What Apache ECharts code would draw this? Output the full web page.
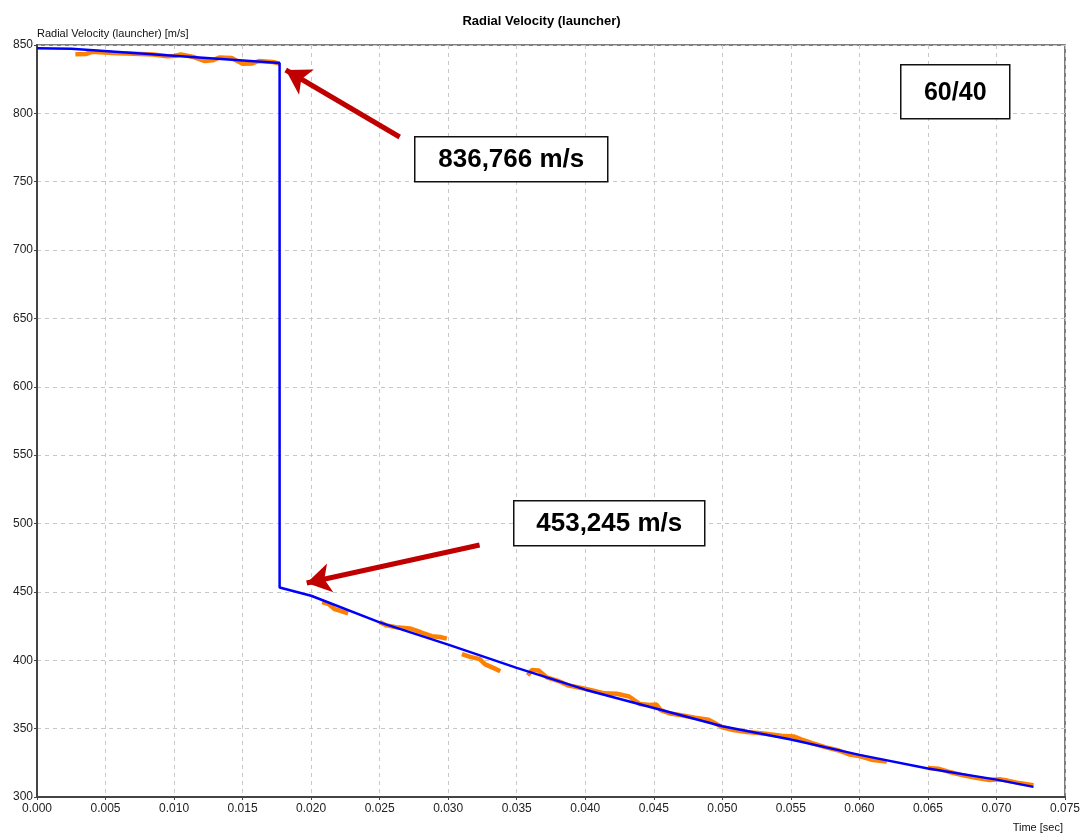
<!DOCTYPE html>
<html>
<head>
<meta charset="utf-8">
<title>Radial Velocity (launcher)</title>
<script src="https://cdn.jsdelivr.net/npm/echarts@6/dist/echarts.min.js"></script>
<style>
  html, body { margin: 0; padding: 0; background: #ffffff; }
  #chart { width: 1083px; height: 837px; }
</style>
</head>
<body>
<div id="chart"></div>
<script>
// Simulated radial velocity of the launcher (blue): slow decay, sudden drop at separation, then decay
const modelTime  = [0, 0.0025, 0.0177, 0.0177, 0.020, 0.025, 0.030, 0.035, 0.040, 0.045, 0.050, 0.055, 0.060, 0.065, 0.070, 0.0727];
const modelValue = [847.6, 847.3, 836.766, 453.245, 447.2, 427.7, 411.4, 394.4, 378.5, 365.1, 351.7, 342.0, 330.8, 320.8, 312.7, 307.4];

// Measured radial velocity (orange); '-' marks a gap in the measurement
const measTime = [
  0.0028, 0.0036, 0.0040, 0.0055, 0.0070, 0.0085, 0.0095, 0.0100, 0.0105, 0.0115, 0.0122, 0.0128, 0.0133, 0.0142, 0.0150, 0.0157, 0.0162, 0.0172, 0.0177, 0.0178,
  0.0208, 0.0213, 0.0217, 0.0222, 0.0227, 0.0228,
  0.0250, 0.0255, 0.0262, 0.0272, 0.0280, 0.0288, 0.0294, 0.0299, 0.0301,
  0.0310, 0.0316, 0.0323, 0.0327, 0.0335, 0.0338, 0.0350,
  0.0358, 0.0361, 0.0366, 0.0372, 0.0380, 0.0388, 0.0398, 0.0406, 0.0414, 0.0423, 0.0432, 0.0437, 0.0440, 0.0447, 0.0452, 0.0455,
  0.0462, 0.0470, 0.0480, 0.0490, 0.0500, 0.0508, 0.0518, 0.0530, 0.0543, 0.0552, 0.0558, 0.0565, 0.0575, 0.0585, 0.0593, 0.0600, 0.0610, 0.0620, 0.0625,
  0.0650, 0.0658, 0.0665, 0.0675, 0.0685, 0.0695, 0.0702, 0.0708, 0.0715, 0.0727
];
const measValue = [
  843.3, 843.5, 845.0, 844.2, 843.6, 843.0, 841.8, 842.0, 843.0, 841.0, 838.3, 838.8, 840.8, 840.5, 836.2, 836.5, 838.3, 837.6, 836.4, '-',
  442.5, 441.0, 437.5, 436.0, 434.3, '-',
  428.0, 425.5, 424.2, 423.3, 420.5, 417.6, 417.0, 415.8, '-',
  404.5, 402.5, 400.8, 397.0, 393.5, 392.0, '-',
  389.0, 392.8, 392.5, 387.5, 385.0, 381.5, 379.5, 377.8, 375.8, 375.5, 373.5, 370.0, 368.0, 367.3, 367.6, 363.5,
  361.0, 359.8, 358.0, 356.5, 351.0, 349.0, 347.5, 346.5, 344.8, 344.3, 342.0, 339.5, 336.5, 334.0, 331.0, 330.0, 327.0, 326.0, '-',
  321.2, 320.6, 318.5, 316.0, 314.0, 312.5, 313.0, 312.0, 310.5, 308.6
];

// Axis ranges and ticks
const timeMin = 0, timeMax = 0.075, timeStep = 0.005;
const velMin = 300, velMax = 850, velStep = 50;

// Callouts: text, and arrows (start -> tip) in data coordinates
const calloutUpper = '836,766 m/s';
const calloutLower = '453,245 m/s';
const calloutRatio = '60/40';
const arrowUpper = [[0.02646, 782.7], [0.01815, 831.7]];
const arrowLower = [[0.03229, 484.3], [0.01968, 456.5]];

const zip = (xs, ys) => xs.map((x, i) => [x, ys[i]]);

const chart = echarts.init(document.getElementById('chart'));
const tickFont = { fontFamily: 'Liberation Sans', fontSize: 12, color: '#222' };
const arrowStyle = { color: '#c00000', width: 5, type: 'solid' };

function calloutBox(x, y, w, h, text, size) {
  return {
    type: 'group', left: x, top: y, z: 100,
    children: [
      { type: 'rect', z: 100, shape: { x: 0, y: 0, width: w, height: h },
        style: { fill: '#fff', stroke: '#111', lineWidth: 1.5 } },
      { type: 'text', z: 101, x: w / 2, y: h / 2 + 1,
        style: { text: text, fill: '#000', font: 'bold ' + size + 'px "Liberation Sans"', textAlign: 'center', textVerticalAlign: 'middle' } }
    ]
  };
}

chart.setOption({
  animation: false,
  backgroundColor: '#fff',
  title: {
    text: 'Radial Velocity (launcher)',
    left: 'center', top: 10,
    textStyle: { fontFamily: 'Liberation Sans', fontSize: 13, fontWeight: 'bold', color: '#000' }
  },
  grid: {
    left: 37, right: 17, top: 45, bottom: 40,
    show: true, borderColor: '#555', borderWidth: 1.5, backgroundColor: '#fff'
  },
  xAxis: {
    type: 'value', min: timeMin, max: timeMax, interval: timeStep,
    axisLine: { show: true, onZero: false, lineStyle: { color: '#444', width: 2 } },
    axisTick: { show: true, length: 3, lineStyle: { color: '#444' } },
    axisLabel: Object.assign({ margin: 6, formatter: v => v.toFixed(3), showMaxLabel: true }, tickFont),
    splitLine: { show: true, lineStyle: { color: '#c8c8c8', type: [4, 4], width: 1 } }
  },
  yAxis: {
    type: 'value', min: velMin, max: velMax, interval: velStep,
    name: 'Radial Velocity (launcher) [m/s]',
    nameLocation: 'end', nameGap: 0,
    nameTextStyle: { fontFamily: 'Liberation Sans', fontSize: 11, color: '#111', align: 'left', verticalAlign: 'bottom', padding: [0, 0, 0, 0] },
    axisLine: { show: true, lineStyle: { color: '#444', width: 2 } },
    axisTick: { show: true, length: 3, lineStyle: { color: '#444' } },
    axisLabel: Object.assign({ margin: 4 }, tickFont),
    splitLine: { show: true, lineStyle: { color: '#c8c8c8', type: [4, 4], width: 1 } }
  },
  graphic: [
    { type: 'text', right: 20, top: 822,
      style: { text: 'Time [sec]', fill: '#111', font: '11px "Liberation Sans"' } },
    calloutBox(414, 136, 193, 45, calloutUpper, 26),
    calloutBox(513, 500, 191, 45, calloutLower, 26),
    calloutBox(900, 64, 109, 54, calloutRatio, 25)
  ],
  series: [
    {
      name: 'measured', type: 'line',
      data: zip(measTime, measValue),
      showSymbol: false, connectNulls: false,
      lineStyle: { color: '#ff8000', width: 4.5 },
      z: 2
    },
    {
      name: 'model', type: 'line',
      data: zip(modelTime, modelValue),
      showSymbol: false,
      lineStyle: { color: '#0000ff', width: 2.5 },
      z: 3,
      markLine: {
        silent: true, animation: false,
        symbol: ['none', 'arrow'], symbolSize: [22, 24],
        label: { show: false },
        lineStyle: arrowStyle,
        data: [
          [{ coord: arrowUpper[0] }, { coord: arrowUpper[1] }],
          [{ coord: arrowLower[0] }, { coord: arrowLower[1] }]
        ]
      }
    }
  ]
});
</script>
</body>
</html>
